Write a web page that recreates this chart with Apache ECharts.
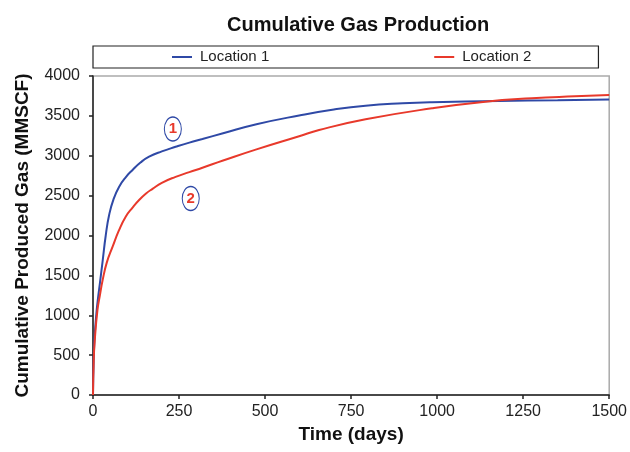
<!DOCTYPE html>
<html>
<head>
<meta charset="utf-8">
<script src="https://cdn.jsdelivr.net/npm/echarts@6/dist/echarts.min.js"></script>
<style>
  html, body { margin: 0; padding: 0; background: #fff; }
  #main { width: 630px; height: 452px; }
</style>
</head>
<body>
<div id="main"></div>
<script>
// Location 1 (blue)
var dayL1 = [0, 2, 5, 10, 15, 20, 28, 37, 47, 60, 76, 95, 115, 138, 163, 200, 240, 280, 318, 378, 475, 599, 700, 792, 900, 985, 1179, 1350, 1500];
var gasL1 = [0, 450, 750, 1030, 1230, 1400, 1680, 2000, 2260, 2460, 2612, 2730, 2822, 2915, 2988, 3055, 3112, 3165, 3210, 3282, 3395, 3505, 3580, 3628, 3658, 3672, 3688, 3696, 3705];
// Location 2 (red)
var dayL2 = [0, 2, 5, 13, 20, 28, 40, 57, 75, 95, 115, 134, 155, 173, 200, 240, 280, 318, 378, 475, 599, 657, 792, 985, 1140, 1275, 1400, 1500];
var gasL2 = [0, 420, 680, 1066, 1250, 1440, 1660, 1860, 2060, 2236, 2350, 2445, 2530, 2585, 2660, 2735, 2795, 2850, 2940, 3080, 3245, 3323, 3457, 3595, 3678, 3720, 3745, 3762];
// circled labels
var noteText = ['1', '2'];
var noteDay = [232, 284];
var noteGas = [3336, 2464];

var xTicks = { min: 0, max: 1500, interval: 250 };
var yTicks = { min: 0, max: 4000, interval: 500 };

var blue = '#2f49a6';
var red = '#e8392b';
var font = 'Liberation Sans, Arial, sans-serif';

function pairs(xs, ys) {
    return xs.map(function (x, i) { return [x, ys[i]]; });
}
function plain(v) { return String(v); }

var notes = noteText.map(function (t, i) {
    return { coord: [noteDay[i], noteGas[i]], value: t };
});

var chart = echarts.init(document.getElementById('main'));
chart.setOption({
    animation: false,
    textStyle: { fontFamily: font },
    title: {
        text: 'Cumulative Gas Production',
        left: 222,
        top: 10,
        textStyle: { fontSize: 20, fontWeight: 'bold', color: '#111', fontFamily: font }
    },
    legend: {
        left: 93,
        top: 46,
        data: ['Location 1', 'Location 2'],
        icon: 'rect',
        itemWidth: 20,
        itemHeight: 2,
        itemGap: 165,
        padding: [3, 67, 3, 79],
        borderColor: '#222',
        borderWidth: 1.2,
        textStyle: { fontSize: 15, color: '#222', lineHeight: 16, fontFamily: font, padding: [0, 0, 0, 3] }
    },
    grid: {
        left: 93,
        right: 20,
        top: 76,
        bottom: 57,
        show: true,
        borderColor: '#aaa',
        borderWidth: 1.5
    },
    xAxis: {
        type: 'value',
        min: xTicks.min,
        max: xTicks.max,
        interval: xTicks.interval,
        name: 'Time (days)',
        nameLocation: 'middle',
        nameGap: 30,
        nameTextStyle: { fontSize: 19, fontWeight: 'bold', color: '#111', fontFamily: font },
        axisLine: { lineStyle: { color: '#222', width: 1.5 } },
        axisTick: { show: true, length: 4, lineStyle: { color: '#222', width: 1.5 } },
        axisLabel: { fontSize: 16, color: '#222', margin: 9, formatter: plain },
        splitLine: { show: false }
    },
    yAxis: {
        type: 'value',
        min: yTicks.min,
        max: yTicks.max,
        interval: yTicks.interval,
        name: 'Cumulative Produced Gas (MMSCF)',
        nameLocation: 'middle',
        nameGap: 61,
        nameTextStyle: { fontSize: 19, fontWeight: 'bold', color: '#111', fontFamily: font },
        axisLine: { show: true, lineStyle: { color: '#222', width: 1.5 } },
        axisTick: { show: true, length: 4, lineStyle: { color: '#222', width: 1.5 } },
        axisLabel: { fontSize: 16, color: '#222', margin: 13, formatter: plain },
        splitLine: { show: false }
    },
    series: [
        {
            name: 'Location 1',
            type: 'line',
            data: pairs(dayL1, gasL1),
            smooth: 0.5,
            showSymbol: false,
            itemStyle: { color: blue },
            lineStyle: { color: blue, width: 2 },
            markPoint: {
                symbol: 'path://M50,0 A50,50 0 1,1 50,100 A50,50 0 1,1 50,0 Z',
                symbolSize: [17, 24],
                itemStyle: { color: 'rgba(0,0,0,0)', borderColor: blue, borderWidth: 1.2 },
                label: { show: true, formatter: '{c}', color: red, fontSize: 15, fontWeight: 'bold', fontFamily: font },
                emphasis: { disabled: true },
                data: notes
            }
        },
        {
            name: 'Location 2',
            type: 'line',
            data: pairs(dayL2, gasL2),
            smooth: 0.5,
            showSymbol: false,
            itemStyle: { color: red },
            lineStyle: { color: red, width: 2 }
        }
    ]
});
</script>
</body>
</html>
